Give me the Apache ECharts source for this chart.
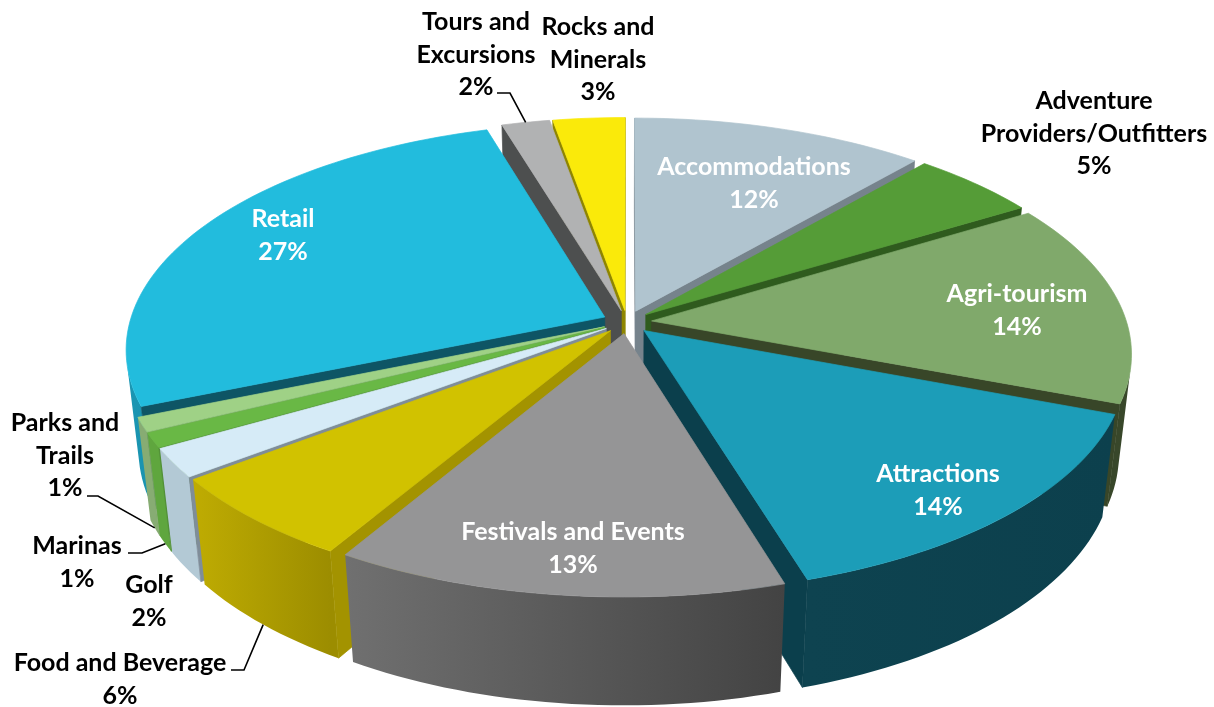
<!DOCTYPE html>
<html>
<head>
<meta charset="utf-8">
<style>html,body{margin:0;padding:0;background:#fff}#chart{width:1214px;height:707px}</style>
<script src="https://cdn.jsdelivr.net/npm/echarts@6/dist/echarts.min.js"></script>
</head>
<body>
<div id="chart"></div>
<script>
// Share of tourism businesses by category, clockwise from twelve o'clock
const categories = ['Accommodations', 'Adventure Providers/Outfitters', 'Agri-tourism', 'Attractions',
  'Festivals and Events', 'Food and Beverage', 'Golf', 'Marinas', 'Parks and Trails', 'Retail',
  'Tours and Excursions', 'Rocks and Minerals'];
const shares = [12, 5, 14, 14, 13, 6, 2, 1, 1, 27, 2, 3];

// Colours per category: top face, cut faces, rim at the clockwise start and end
const topColors = ['#b0c4cf', '#559c37', '#80a96b', '#1c9db8', '#959596', '#d1c200', '#d6ebf7', '#69b845', '#9fd186', '#22bcdd', '#b1b2b3', '#faea0a'];
const cutColors = ['#76838c', '#2f5b1e', '#384628', '#0b3f4c', '#4a4a4a', '#a39300', '#7f8d99', '#4f8f33', '#7da568', '#0e5565', '#4d4f4f', '#8e8500'];
const rimStart  = ['#8c9ca5', '#3f7529', '#38472a', '#0c404d', '#434343', '#9c8d00', '#b3c9d5', '#5fa63e', '#87ac73', '#1a94b0', '#8a8b8c', '#c4b800'];
const rimEnd    = ['#8c9ca5', '#3f7529', '#38472a', '#0e4350', '#707070', '#bfac02', '#b3c9d5', '#5fa63e', '#87ac73', '#20a8c6', '#8a8b8c', '#c4b800'];

// Text layout: centre x and first line y of each label
const labelLines = [['Accommodations'], ['Adventure', 'Providers/Outfitters'], ['Agri-tourism'], ['Attractions'],
  ['Festivals and Events'], ['Food and Beverage'], ['Golf'], ['Marinas'], ['Parks and', 'Trails'], ['Retail'],
  ['Tours and', 'Excursions'], ['Rocks and', 'Minerals']];
const labelX = [754, 1094, 1017, 938, 573, 120, 149, 77, 65, 283, 476, 598];
const labelY = [167, 101, 294, 474, 532, 663, 585, 546, 423, 219, 22, 27];
const labelInk = ['#fff', '#000', '#fff', '#fff', '#fff', '#000', '#000', '#000', '#000', '#fff', '#000', '#000'];

// Leader lines: slice, elbow points, and how far down the rim the line lands
const leaders = [
  { slice: 10, path: [[497, 93], [510, 93]], drop: 0 },
  { slice: 8, path: [[87, 496], [98, 496]], drop: 1 },
  { slice: 7, path: [[128, 553], [142, 553]], drop: 1 },
  { slice: 5, path: [[231, 670], [244, 670]], drop: 1 }
];

// Camera model for the tilted disc; the skew terms bend the angles for an off-axis view
const view = { cx: 627, cy: 322, rx: 475, ry: 223, height: 102, tilt: 0.14, shrink: 0.025, gap: 0.052, skewA: 0.002, skewB: -0.007, skewC: -0.002 };

function project(u, v, z) {
  const w = 1 - view.tilt * v + view.shrink * z;
  return [view.cx + view.rx * u / w, view.cy + (view.ry * v + view.height * z) / w];
}
function signedArea(pts) {
  let a = 0;
  for (let i = 0; i < pts.length; i++) {
    const p = pts[i], q = pts[(i + 1) % pts.length];
    a += p[0] * q[1] - q[0] * p[1];
  }
  return a / 2;
}
function mix(a, b, f) {
  const ca = echarts.color.parse(a), cb = echarts.color.parse(b);
  return `rgb(${[0, 1, 2].map(i => Math.round(ca[i] + (cb[i] - ca[i]) * f)).join(',')})`;
}
function viewAngle(t) {
  return t + 2 * Math.PI * (view.skewA * (1 - Math.cos(t)) + view.skewB * Math.sin(t) + view.skewC * Math.sin(2 * t));
}

const total = shares.reduce((s, x) => s + x, 0);
const sliceGeom = [];
let running = 0;
shares.forEach(s => {
  const a0 = viewAngle(running / total * 2 * Math.PI);
  running += s;
  const a1 = viewAngle(running / total * 2 * Math.PI);
  const mid = (a0 + a1) / 2;
  sliceGeom.push({ a0, a1, mid, du: view.gap * Math.sin(mid), dv: -view.gap * Math.cos(mid) });
});
function rimPoint(g, t, z) { return project(Math.sin(t) + g.du, -Math.cos(t) + g.dv, z); }
function hubPoint(g, z) { return project(g.du, g.dv, z); }

// Back slices first so the nearer ones paint over them
const drawOrder = shares.map((_, i) => i).sort((a, b) => sliceGeom[a].dv - sliceGeom[b].dv);

function poly(points, fill, z2, stroke) {
  return { type: 'polygon', z2, shape: { points }, style: { fill, stroke: stroke || fill, lineWidth: 0.7 } };
}

function renderSlice(params, api) {
  const i = api.value(0), g = sliceGeom[i], kids = [];
  const base = params.dataIndex * 10 + 1;
  const steps = Math.max(4, Math.ceil((g.a1 - g.a0) / 0.025));
  const angle = k => g.a0 + (g.a1 - g.a0) * k / steps;

  // Outer wall: the run of rim steps that face the viewer, shaded across its width
  const shown = [];
  for (let k = 0; k < steps; k++) {
    const q = [rimPoint(g, angle(k), 0), rimPoint(g, angle(k + 1), 0), rimPoint(g, angle(k + 1), 1), rimPoint(g, angle(k), 1)];
    if (signedArea(q) < 0) shown.push(k);
  }
  if (shown.length) {
    const first = shown[0], last = shown[shown.length - 1] + 1;
    const upper = [], lower = [];
    for (let k = first; k <= last; k++) {
      upper.push(rimPoint(g, angle(k), 0));
      lower.unshift(rimPoint(g, angle(k), 1));
    }
    const x0 = upper[0][0], x1 = upper[upper.length - 1][0];
    const shade = {
      type: 'linear', global: true, x: x0, y: 0, x2: x1, y2: 0,
      colorStops: [
        { offset: 0, color: mix(rimStart[i], rimEnd[i], first / steps) },
        { offset: 1, color: mix(rimStart[i], rimEnd[i], last / steps) }
      ]
    };
    kids.push(poly(upper.concat(lower), shade, base, 'transparent'));
  }
  // Radial cut faces on both sides of the slice
  const startFace = [hubPoint(g, 0), rimPoint(g, g.a0, 0), rimPoint(g, g.a0, 1), hubPoint(g, 1)];
  const endFace = [hubPoint(g, 0), rimPoint(g, g.a1, 0), rimPoint(g, g.a1, 1), hubPoint(g, 1)];
  if (signedArea(startFace) < 0) kids.push(poly(startFace, cutColors[i], base + 1));
  if (signedArea(endFace) > 0) kids.push(poly(endFace, cutColors[i], base + 1));
  // Top face
  const top = [hubPoint(g, 0)];
  for (let k = 0; k <= steps; k++) top.push(rimPoint(g, angle(k), 0));
  kids.push(poly(top, topColors[i], base + 2));
  return { type: 'group', children: kids };
}

function renderLabel(params, api) {
  const i = api.value(0);
  const lines = labelLines[i].concat(shares[i] + '%');
  return {
    type: 'group',
    children: lines.map((text, n) => ({
      type: 'text', z2: 500,
      style: {
        text, x: labelX[i], y: labelY[i] + n * 32.7, align: 'center', verticalAlign: 'middle',
        fill: labelInk[i], fontFamily: 'Lato', fontWeight: 700, fontSize: 25
      }
    }))
  };
}

function renderLeader(params, api) {
  const l = leaders[api.value(0)], g = sliceGeom[l.slice];
  return {
    type: 'polyline', z2: 400,
    shape: { points: l.path.concat([rimPoint(g, g.mid, l.drop)]) },
    style: { fill: 'none', stroke: '#000', lineWidth: 1.6 }
  };
}

const chart = echarts.init(document.getElementById('chart'), null, { renderer: 'canvas' });
chart.setOption({
  animation: false,
  backgroundColor: '#fff',
  series: [
    { type: 'custom', coordinateSystem: 'none', silent: true, z: 2, renderItem: renderSlice,
      data: drawOrder.map(i => [i, shares[i]]) },
    { type: 'custom', coordinateSystem: 'none', silent: true, z: 3, renderItem: renderLeader,
      data: leaders.map((_, i) => [i]) },
    { type: 'custom', coordinateSystem: 'none', silent: true, z: 4, renderItem: renderLabel,
      data: shares.map((s, i) => [i, s]) }
  ]
});
</script>
</body>
</html>
